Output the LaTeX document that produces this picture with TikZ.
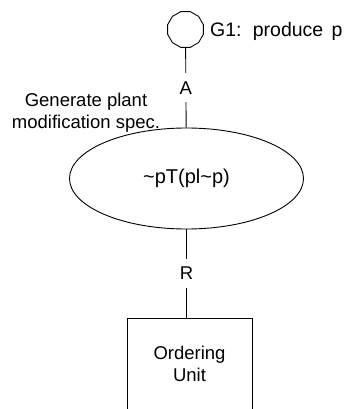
\documentclass[tikz,border=0pt]{standalone}
\usepackage{fontspec}
\setmainfont{Liberation Sans}
\usetikzlibrary{shapes.geometric}

\begin{document}
\begin{tikzpicture}[x=1pt, y=-1pt,
  lbltext/.style={font=\fontsize{18.5}{21.5}\selectfont},
  goalmark/.style={regular polygon, regular polygon sides=12, draw, line width=0.9pt, inner sep=0pt, minimum size=37pt},
  taskoval/.style={ellipse, draw, line width=0.9pt, minimum width=234pt, minimum height=101pt, font=\fontsize{20}{24}\selectfont},
  unitbox/.style={rectangle, draw, line width=0.9pt, minimum width=125pt, minimum height=92pt, align=center, lbltext},
  linklbl/.style={fill=white, inner xsep=3pt, inner ysep=8pt, lbltext},
  link/.style={draw, line width=0.9pt},
]
\clip (0,0) rectangle (350,409);
\node[goalmark] (goal) at (185.5,29.5) {};
\node[font=\fontsize{19.5}{23}\selectfont, anchor=base west, inner sep=0pt] (goaltext) at (210,37) {G1:\hspace{4pt} produce\hspace{3pt} p};
\node[taskoval] (task) at (186.5,178.5) {\textasciitilde pT(pl\textasciitilde p)};
\node[lbltext, align=center] (tasktext) at (86,112.5) {Generate plant\\modification spec.};
\node[unitbox] (unit) at (189.5,364) {Ordering\\Unit};
\draw[link] (goal) -- node[linklbl] {A} (task);
\draw[link] (task.south) -- node[linklbl] {R} (task.south |- unit.north);
\end{tikzpicture}
\end{document}
